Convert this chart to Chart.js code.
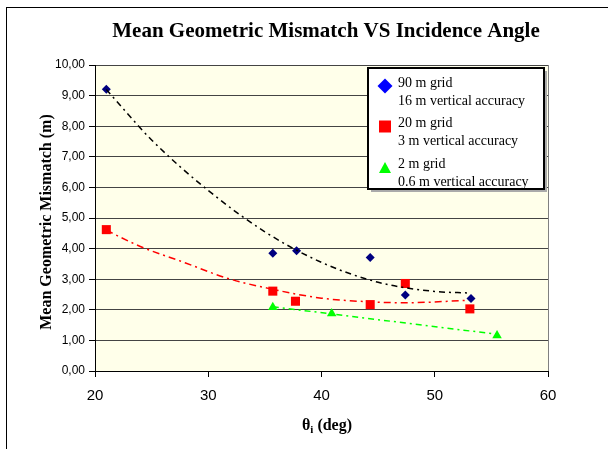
<!DOCTYPE html>
<html>
<head>
<meta charset="utf-8">
<script src="https://cdn.jsdelivr.net/npm/chart.js@4.4.1/dist/chart.umd.min.js"></script>
<style>
  html, body { margin: 0; padding: 0; background: #fff; }
  #wrap { width: 608px; height: 449px; position: relative; }
</style>
</head>
<body>
<div id="wrap"><canvas id="chart" width="608" height="449"></canvas></div>
<script>
const xTicks = [20, 30, 40, 50, 60];

const grid90X = [21.0, 35.7, 37.8, 44.3, 47.4, 53.2];
const grid90Y = [9.21, 3.85, 3.93, 3.71, 2.48, 2.37];

const grid20X = [21.0, 35.7, 37.7, 44.3, 47.4, 53.1];
const grid20Y = [4.62, 2.61, 2.28, 2.17, 2.86, 2.03];

const grid2X = [35.7, 40.9, 55.5];
const grid2Y = [2.08, 1.88, 1.16];

// trendlines, as traced on the picture
const trend90X = [21, 25, 30, 35, 40, 45, 50, 53];
const trend90Y = [9.2, 7.55, 5.9, 4.55, 3.55, 2.9, 2.6, 2.55];
const trend20X = [21, 24, 28, 31.6, 35.3, 40, 44.3, 47.4, 53];
const trend20Y = [4.6, 4.07, 3.53, 3.04, 2.7, 2.38, 2.26, 2.23, 2.31];
const trend2X = [35.7, 55.5];
const trend2Y = [2.1, 1.2];

const legendItems = [
  { lines: ['90 m grid', '16 m vertical accuracy'], shape: 'diamond', color: '#0000FF' },
  { lines: ['20 m grid', '3 m vertical accuracy'], shape: 'square', color: '#FF0000' },
  { lines: ['2 m grid', '0.6 m vertical accuracy'], shape: 'triangle', color: '#00FF00' }
];

const chartTitle = 'Mean Geometric Mismatch VS Incidence Angle';
const yTitle = 'Mean Geometric Mismatch (m)';

const toPoints = (xs, ys) => xs.map((x, i) => ({ x: x, y: ys[i] }));

const SERIF = '"Liberation Serif", "DejaVu Serif", serif';

const decor = {
  id: 'decor',
  beforeDraw(chart) {
    const { ctx, chartArea: a } = chart;
    ctx.save();
    // outer frame (runs off the right/bottom of the window)
    ctx.strokeStyle = '#000';
    ctx.lineWidth = 1;
    ctx.strokeRect(6.5, 7.5, 800, 600);
    // plot background
    ctx.fillStyle = '#FFFFEA';
    ctx.fillRect(a.left, a.top, a.right - a.left, a.bottom - a.top);
    ctx.restore();
  },
  afterDraw(chart) {
    const { ctx, chartArea: a } = chart;
    ctx.save();
    // gray right border of plot
    ctx.strokeStyle = '#808080';
    ctx.beginPath();
    ctx.moveTo(a.right + 0.5, a.top);
    ctx.lineTo(a.right + 0.5, a.bottom);
    ctx.stroke();

    // title
    ctx.fillStyle = '#000';
    ctx.textAlign = 'center';
    ctx.textBaseline = 'alphabetic';
    ctx.font = 'bold 21px ' + SERIF;
    ctx.fillText(chartTitle, 326, 37);

    // x axis title with subscript
    ctx.font = 'bold 16px ' + SERIF;
    const main = '\u03B8';
    const rest = ' (deg)';
    ctx.textAlign = 'left';
    const w1 = ctx.measureText(main).width;
    ctx.font = 'bold 11px ' + SERIF;
    const w2 = ctx.measureText('i').width;
    ctx.font = 'bold 16px ' + SERIF;
    const w3 = ctx.measureText(rest).width;
    let x0 = 327 - (w1 + w2 + w3) / 2;
    ctx.fillText(main, x0, 430);
    ctx.font = 'bold 11px ' + SERIF;
    ctx.fillText('i', x0 + w1, 433);
    ctx.font = 'bold 16px ' + SERIF;
    ctx.fillText(rest, x0 + w1 + w2, 430);

    // y axis title
    ctx.save();
    ctx.translate(51, 222);
    ctx.rotate(-Math.PI / 2);
    ctx.textAlign = 'center';
    ctx.font = 'bold 16px ' + SERIF;
    ctx.fillText(yTitle, 0, 0);
    ctx.restore();

    // legend box
    const lx = 368, ly = 68, lw = 176, lh = 121;
    ctx.fillStyle = '#aaa';
    ctx.fillRect(lx + 3, ly + 3, lw, lh);
    ctx.fillStyle = '#fff';
    ctx.fillRect(lx, ly, lw, lh);
    ctx.strokeStyle = '#000';
    ctx.lineWidth = 2;
    ctx.strokeRect(lx, ly, lw, lh);

    ctx.font = '14px ' + SERIF;
    ctx.textAlign = 'left';
    ctx.textBaseline = 'middle';
    legendItems.forEach((item, i) => {
      const cy = 86 + i * 40.5;
      const cx = 385;
      ctx.fillStyle = item.color;
      ctx.beginPath();
      if (item.shape === 'diamond') {
        ctx.moveTo(cx, cy - 7.5); ctx.lineTo(cx + 7.5, cy);
        ctx.lineTo(cx, cy + 7.5); ctx.lineTo(cx - 7.5, cy);
      } else if (item.shape === 'square') {
        ctx.rect(cx - 6, cy - 6, 12, 12);
      } else {
        ctx.moveTo(cx, cy - 5); ctx.lineTo(cx + 6, cy + 6); ctx.lineTo(cx - 6, cy + 6);
      }
      ctx.closePath();
      ctx.fill();
      ctx.fillStyle = '#000';
      ctx.fillText(item.lines[0], 398, cy - 3);
      ctx.fillText(item.lines[1], 398, cy + 15);
    });
    ctx.restore();
  }
};

new Chart(document.getElementById('chart'), {
  type: 'scatter',
  data: {
    datasets: [
      {
        label: 'trend 90', data: toPoints(trend90X, trend90Y), showLine: true,
        borderColor: '#000', borderWidth: 1.5, borderDash: [6, 4, 2, 4],
        pointRadius: 0, tension: 0.4, cubicInterpolationMode: 'monotone'
      },
      {
        label: 'trend 20', data: toPoints(trend20X, trend20Y), showLine: true,
        borderColor: '#FF0000', borderWidth: 1.5, borderDash: [7, 4, 2, 4],
        pointRadius: 0, tension: 0.4, cubicInterpolationMode: 'monotone'
      },
      {
        label: 'trend 2', data: toPoints(trend2X, trend2Y), showLine: true,
        borderColor: '#00FF00', borderWidth: 1.5, borderDash: [6, 4, 2, 4],
        pointRadius: 0
      },
      {
        label: '90 m grid', data: toPoints(grid90X, grid90Y),
        pointStyle: 'rectRot', pointRadius: 4.5, backgroundColor: '#000080', borderColor: '#000080', borderWidth: 0
      },
      {
        label: '20 m grid', data: toPoints(grid20X, grid20Y),
        pointStyle: 'rect', pointRadius: 6.4, backgroundColor: '#FF0000', borderColor: '#FF0000', borderWidth: 0
      },
      {
        label: '2 m grid', data: toPoints(grid2X, grid2Y),
        pointStyle: 'triangle', pointRadius: 5.5, backgroundColor: '#00FF00', borderColor: '#00FF00', borderWidth: 0
      }
    ]
  },
  options: {
    responsive: false,
    animation: false,
    events: [],
    layout: { padding: { left: 0, top: 65, right: 60, bottom: 0 } },
    plugins: {
      legend: { display: false },
      tooltip: { enabled: false },
      title: { display: false }
    },
    scales: {
      x: {
        type: 'linear', min: 20, max: 60,
        afterFit: (s) => { s.height = 78; },
        afterBuildTicks: (s) => { s.ticks = xTicks.map(v => ({ value: v })); },
        grid: { drawOnChartArea: false, tickLength: 6, tickColor: '#000' },
        border: { color: '#000', width: 1 },
        ticks: {
          padding: 10, color: '#000',
          font: { family: '"Liberation Sans", Arial, sans-serif', size: 15 }
        }
      },
      y: {
        min: 0, max: 10,
        afterFit: (s) => { s.width = 95; },
        grid: { color: '#444', lineWidth: 1, tickLength: 6, tickColor: '#000' },
        border: { color: '#000', width: 1 },
        ticks: {
          stepSize: 1, padding: 4, color: '#000',
          font: { family: '"Liberation Sans", Arial, sans-serif', size: 12 },
          callback: (v) => v.toFixed(2).replace('.', ',')
        }
      }
    }
  },
  plugins: [decor]
});
</script>
</body>
</html>
